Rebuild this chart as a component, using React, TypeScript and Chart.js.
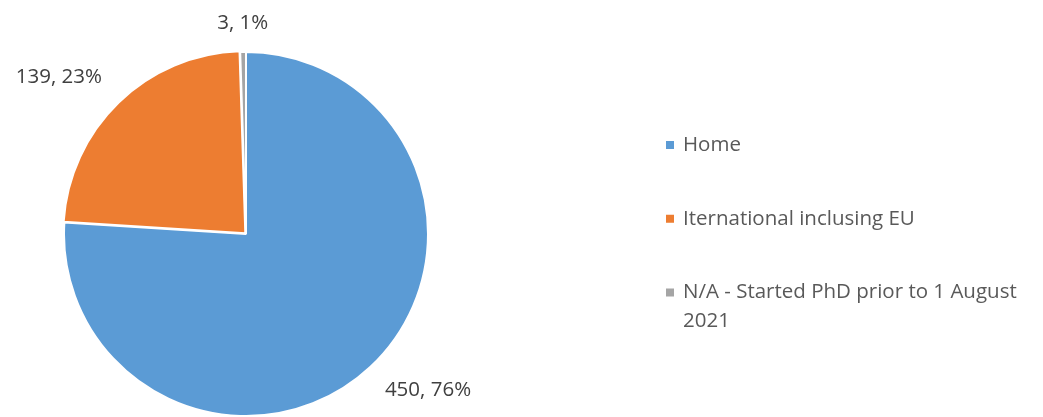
import React, { useEffect, useRef } from "react";
import { Chart, registerables } from "chart.js";

Chart.register(...registerables);

const categories = [
  "Home",
  "Iternational inclusing EU",
  "N/A - Started PhD prior to 1 August 2021",
];
const values = [450, 139, 3];
const colors = ["#5B9BD5", "#ED7D31", "#A5A5A5"];
const sliceOffsets = [0, 4, 0];

const FONT = '"Open Sans", "DejaVu Sans", sans-serif';
const FONT_SIZE = 20.5;

const outsideLabels = {
  id: "outsideLabels",
  afterDatasetsDraw(chart: any) {
    const ctx = chart.ctx;
    const meta = chart.getDatasetMeta(0);
    const total = values.reduce((a, b) => a + b, 0);
    ctx.save();
    ctx.font = `${FONT_SIZE}px ${FONT}`;
    ctx.fillStyle = "#404040";
    meta.data.forEach((arc: any, i: number) => {
      const p = arc.getProps(["x", "y", "startAngle", "endAngle", "outerRadius"], true);
      const mid = (p.startAngle + p.endAngle) / 2;
      const dx = Math.cos(mid);
      const dy = Math.sin(mid);
      const dist = p.outerRadius + sliceOffsets[i] + 21;
      const ax = p.x + dx * dist;
      const ay = p.y + dy * dist;
      ctx.textAlign = dx > 0.2 ? "left" : dx < -0.2 ? "right" : "center";
      ctx.textBaseline = "middle";
      const ty = ay + (dy > 0 ? 8 : -8);
      const pct = Math.round((values[i] / total) * 100);
      ctx.fillText(`${values[i]}, ${pct}%`, ax, ty);
    });
    ctx.restore();
  },
};

const customLegend = {
  id: "customLegend",
  afterDraw(chart: any) {
    const ctx = chart.ctx;
    const boxX = 666;
    const textX = 683;
    const firstY = 145;
    const rowGap = 73.75;
    const lineH = 28.5;
    const maxW = 1043 - textX - 6;
    ctx.save();
    ctx.font = `${FONT_SIZE}px ${FONT}`;
    ctx.textAlign = "left";
    ctx.textBaseline = "middle";
    const labels: string[] = chart.data.labels;
    labels.forEach((label, i) => {
      const cy = firstY + i * rowGap;
      ctx.fillStyle = colors[i];
      ctx.fillRect(boxX, cy - 4, 8, 8);
      ctx.fillStyle = "#595959";
      const words = label.split(" ");
      const lines: string[] = [];
      let cur = "";
      words.forEach((w) => {
        const test = cur ? cur + " " + w : w;
        if (cur && ctx.measureText(test).width > maxW) {
          lines.push(cur);
          cur = w;
        } else {
          cur = test;
        }
      });
      if (cur) lines.push(cur);
      lines.forEach((ln, j) => ctx.fillText(ln, textX, cy + j * lineH));
    });
    ctx.restore();
  },
};

export default function App() {
  const ref = useRef<HTMLCanvasElement | null>(null);
  useEffect(() => {
    document.body.style.margin = "0";
    const canvas = ref.current!;
    const chart = new Chart(canvas, {
      type: "pie",
      data: {
        labels: categories,
        datasets: [
          {
            data: values,
            backgroundColor: colors,
            borderColor: "#FFFFFF",
            borderWidth: 2,
            offset: sliceOffsets,
          },
        ],
      },
      options: {
        responsive: false,
        animation: false,
        devicePixelRatio: 1,
        radius: 182,
        layout: { padding: { left: 0, right: 551, top: 51, bottom: 0 } },
        plugins: {
          legend: { display: false },
          tooltip: { enabled: false },
        },
      } as any,
      plugins: [outsideLabels, customLegend],
    });
    return () => chart.destroy();
  }, []);
  return (
    <div style={{ position: "absolute", left: 0, top: 0, width: 1043, height: 417, background: "#fff" }}>
      <canvas ref={ref} width={1043} height={417} />
    </div>
  );
}
